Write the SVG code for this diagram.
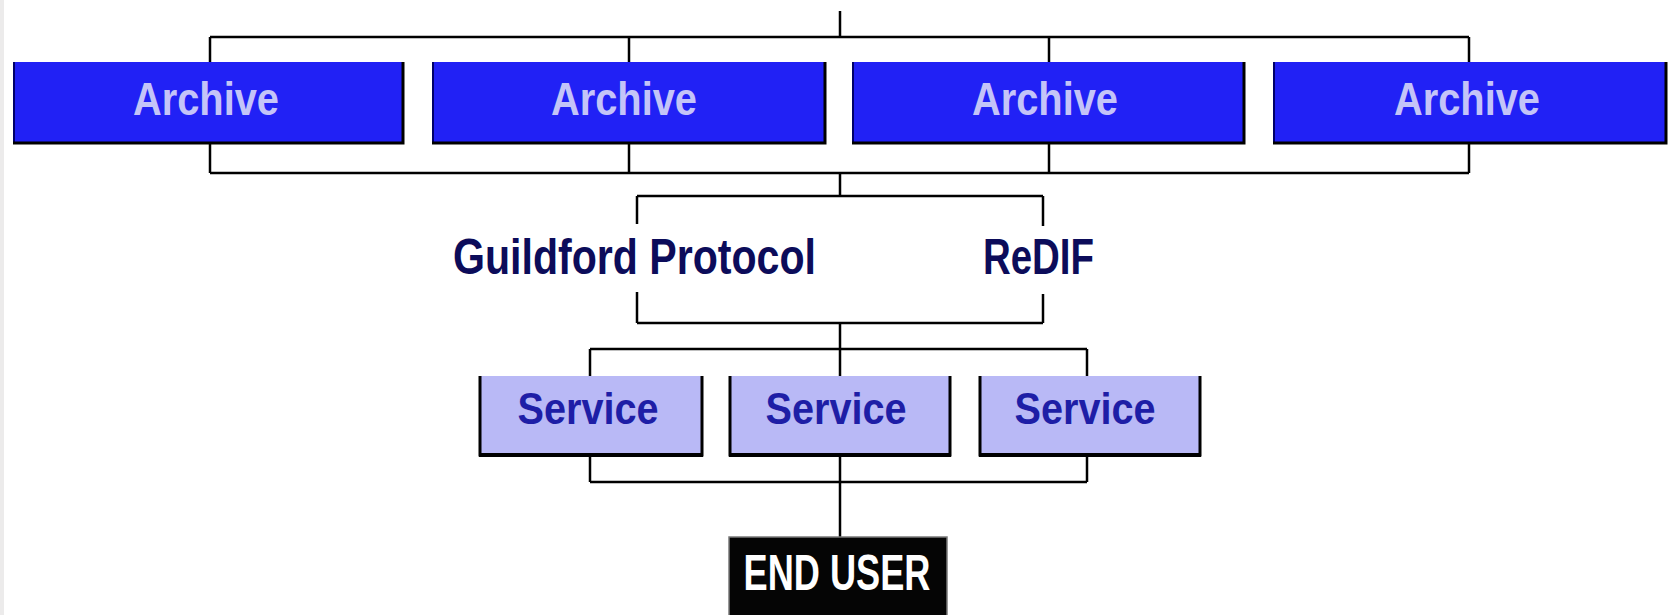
<svg xmlns="http://www.w3.org/2000/svg" width="1673" height="615" viewBox="0 0 1673 615">
<style>
.ln{stroke:#000;stroke-width:2.5;fill:none}
.arch{fill:#2121f5}
.archt{font-family:"Liberation Sans",Arial,sans-serif;font-weight:bold;font-size:46px;fill:#c4c4f8;text-anchor:middle}
.svc{fill:#b9b9f6}
.svct{font-family:"Liberation Sans",Arial,sans-serif;font-weight:bold;font-size:45px;fill:#1e1ea6;text-anchor:middle}
.lbl{font-family:"Liberation Sans",Arial,sans-serif;font-weight:bold;font-size:50px;fill:#0c0c5a}
.sh{stroke:#000;stroke-width:3;fill:none}
.edge{stroke:#00006a;stroke-width:2;fill:none}
.eut{font-family:"Liberation Sans",Arial,sans-serif;font-weight:bold;font-size:50px;fill:#fff;text-anchor:middle}
</style>
<rect x="0" y="0" width="1673" height="615" fill="#fff"/>
<rect x="0" y="0" width="4" height="615" fill="#ecebeb"/>
<g id="connectors">
<line class="ln" x1="840" y1="11" x2="840" y2="37"/>
<line class="ln" x1="210" y1="37" x2="1469" y2="37"/>
<line class="ln" x1="210" y1="37" x2="210" y2="173"/>
<line class="ln" x1="629" y1="37" x2="629" y2="173"/>
<line class="ln" x1="1049" y1="37" x2="1049" y2="173"/>
<line class="ln" x1="1469" y1="37" x2="1469" y2="173"/>
<line class="ln" x1="210" y1="173" x2="1469" y2="173"/>
<line class="ln" x1="840" y1="173" x2="840" y2="196"/>
<line class="ln" x1="637" y1="196" x2="1043" y2="196"/>
<line class="ln" x1="637" y1="196" x2="637" y2="224"/>
<line class="ln" x1="1043" y1="196" x2="1043" y2="226"/>
<line class="ln" x1="637" y1="292" x2="637" y2="323"/>
<line class="ln" x1="1043" y1="294" x2="1043" y2="323"/>
<line class="ln" x1="637" y1="323" x2="1043" y2="323"/>
<line class="ln" x1="840" y1="323" x2="840" y2="349"/>
<line class="ln" x1="590" y1="349" x2="1087" y2="349"/>
<line class="ln" x1="590" y1="349" x2="590" y2="482"/>
<line class="ln" x1="840" y1="349" x2="840" y2="482"/>
<line class="ln" x1="1087" y1="349" x2="1087" y2="482"/>
<line class="ln" x1="590" y1="482" x2="1087" y2="482"/>
<line class="ln" x1="840" y1="482" x2="840" y2="537"/>
</g>
<g id="archive1">
<rect class="arch" x="13" y="62" width="391" height="82"/>
<polyline class="edge" points="14,62 14,143"/>
<polyline class="sh" points="13,143 403,143 403,62"/>
<text class="archt" x="206" y="115" textLength="146" lengthAdjust="spacingAndGlyphs">Archive</text>
</g>
<g id="archive2">
<rect class="arch" x="432" y="62" width="394" height="82"/>
<polyline class="edge" points="433,62 433,143"/>
<polyline class="sh" points="432,143 825,143 825,62"/>
<text class="archt" x="624" y="115" textLength="146" lengthAdjust="spacingAndGlyphs">Archive</text>
</g>
<g id="archive3">
<rect class="arch" x="852" y="62" width="393" height="82"/>
<polyline class="edge" points="853,62 853,143"/>
<polyline class="sh" points="852,143 1244,143 1244,62"/>
<text class="archt" x="1045" y="115" textLength="146" lengthAdjust="spacingAndGlyphs">Archive</text>
</g>
<g id="archive4">
<rect class="arch" x="1273" y="62" width="394" height="82"/>
<polyline class="edge" points="1274,62 1274,143"/>
<polyline class="sh" points="1273,143 1666,143 1666,62"/>
<text class="archt" x="1467" y="115" textLength="146" lengthAdjust="spacingAndGlyphs">Archive</text>
</g>
<g id="guildford">
<text class="lbl" x="453" y="274" textLength="363" lengthAdjust="spacingAndGlyphs">Guildford Protocol</text>
</g>
<g id="redif">
<text class="lbl" x="983" y="274" textLength="111" lengthAdjust="spacingAndGlyphs">ReDIF</text>
</g>
<g id="service1">
<rect class="svc" x="479" y="376" width="224" height="79"/>
<polyline class="sh" points="480,376 480,455 702,455 702,376"/>
<line x1="479" y1="455" x2="703" y2="455" stroke="#000" stroke-width="4"/>
<text class="svct" x="588" y="424" textLength="141" lengthAdjust="spacingAndGlyphs">Service</text>
</g>
<g id="service2">
<rect class="svc" x="729" y="376" width="222" height="79"/>
<polyline class="sh" points="730,376 730,455 950,455 950,376"/>
<line x1="729" y1="455" x2="951" y2="455" stroke="#000" stroke-width="4"/>
<text class="svct" x="836" y="424" textLength="141" lengthAdjust="spacingAndGlyphs">Service</text>
</g>
<g id="service3">
<rect class="svc" x="979" y="376" width="222" height="79"/>
<polyline class="sh" points="980,376 980,455 1200,455 1200,376"/>
<line x1="979" y1="455" x2="1201" y2="455" stroke="#000" stroke-width="4"/>
<text class="svct" x="1085" y="424" textLength="141" lengthAdjust="spacingAndGlyphs">Service</text>
</g>
<g id="enduser">
<rect x="729" y="537" width="218" height="80" fill="#050505" stroke="#7a7a7a" stroke-width="1.5"/>
<text class="eut" x="837" y="590" textLength="187" lengthAdjust="spacingAndGlyphs">END USER</text>
</g>
</svg>
